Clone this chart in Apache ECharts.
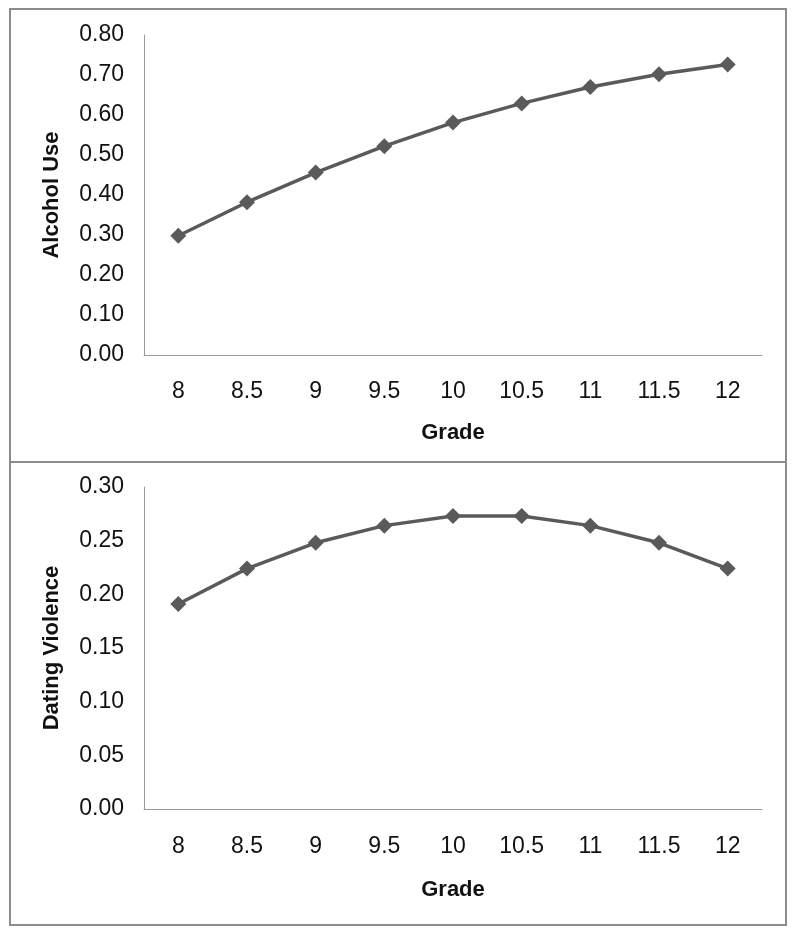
<!DOCTYPE html>
<html>
<head>
<meta charset="utf-8">
<script src="https://cdn.jsdelivr.net/npm/echarts@6/dist/echarts.min.js"></script>
<style>
html,body{margin:0;padding:0;background:#fff;}
#c{width:796px;height:935px;}
</style>
</head>
<body>
<div id="c"></div>
<script>
const grades = ['8','8.5','9','9.5','10','10.5','11','11.5','12'];
const alcoholUse = [0.298, 0.382, 0.456, 0.522, 0.581, 0.629, 0.670, 0.702, 0.726];
const datingViolence = [0.191, 0.224, 0.248, 0.264, 0.273, 0.273, 0.264, 0.248, 0.224];
const alcoholTicks = {min: 0, max: 0.8, interval: 0.1};
const datingTicks = {min: 0, max: 0.3, interval: 0.05};

const FONT = '"Liberation Sans", Arial, sans-serif';
const lineColor = '#5a5a5a';
const axisColor = '#9a9a9a';

function xAxis(gi, gap, margin){
  return {
    type: 'category', gridIndex: gi, data: grades, boundaryGap: true,
    name: 'Grade', nameLocation: 'middle', nameGap: gap,
    nameTextStyle: {fontFamily: FONT, fontSize: 22, fontWeight: 'bold', color: '#111'},
    axisLine: {show: true, lineStyle: {color: axisColor, width: 1}},
    axisTick: {show: false},
    axisLabel: {fontFamily: FONT, fontSize: 23, color: '#111', margin: margin},
    splitLine: {show: false}
  };
}
function yAxis(gi, name, t){
  return {
    type: 'value', gridIndex: gi, min: t.min, max: t.max, interval: t.interval,
    name: name, nameLocation: 'middle', nameRotate: 90, nameGap: 81,
    nameTextStyle: {fontFamily: FONT, fontSize: 22, fontWeight: 'bold', color: '#111'},
    axisLine: {show: true, lineStyle: {color: axisColor, width: 1}},
    axisTick: {show: false},
    axisLabel: {fontFamily: FONT, fontSize: 23, color: '#111', margin: 20,
      formatter: v => v.toFixed(2)},
    splitLine: {show: false}
  };
}
function series(gi, data){
  return {
    type: 'line', xAxisIndex: gi, yAxisIndex: gi, data: data,
    symbol: 'diamond', symbolSize: 16, showSymbol: true,
    lineStyle: {color: lineColor, width: 3.5},
    itemStyle: {color: lineColor},
    animation: false
  };
}

const chart = echarts.init(document.getElementById('c'), null, {renderer: 'canvas'});
chart.setOption({
  backgroundColor: '#fff',
  animation: false,
  grid: [
    {left: 144, right: 34, top: 35, height: 320},
    {left: 144, right: 34, top: 487, height: 322}
  ],
  xAxis: [xAxis(0, 67, 25), xAxis(1, 70, 26)],
  yAxis: [yAxis(0, 'Alcohol Use', alcoholTicks), yAxis(1, 'Dating Violence', datingTicks)],
  series: [series(0, alcoholUse), series(1, datingViolence)],
  graphic: [
    {type: 'rect', shape: {x: 10, y: 9, width: 776, height: 453}, style: {fill: 'none', stroke: '#8c8c8c', lineWidth: 2}, silent: true},
    {type: 'rect', shape: {x: 10, y: 462, width: 776, height: 463}, style: {fill: 'none', stroke: '#8c8c8c', lineWidth: 2}, silent: true}
  ]
});
</script>
</body>
</html>
